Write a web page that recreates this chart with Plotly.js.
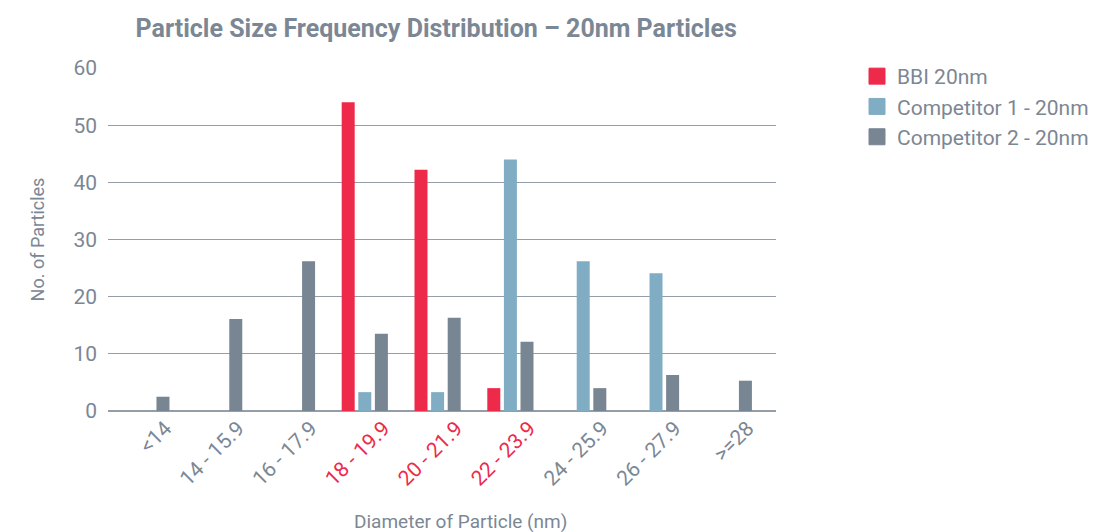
<!DOCTYPE html>
<html>
<head>
<meta charset="utf-8">
<script src="https://cdn.plot.ly/plotly-3.0.1.min.js"></script>
<style>html,body{margin:0;padding:0;background:#fff;}#chart{width:1096px;height:532px;}</style>
</head>
<body>
<div id="chart"></div>
<script>
const categories = ["<14", "14 - 15.9", "16 - 17.9", "18 - 19.9", "20 - 21.9", "22 - 23.9", "24 - 25.9", "26 - 27.9", ">=28"];
const tickLabels = ["&lt;14", "14 - 15.9", "16 - 17.9", "18 - 19.9", "20 - 21.9", "22 - 23.9", "24 - 25.9", "26 - 27.9", "&gt;=28"];
const highlighted = ["18 - 19.9", "20 - 21.9", "22 - 23.9"];
const bbi = [null, null, null, 54, 42.2, 4, null, null, null];
const comp1 = [null, null, null, 3.3, 3.3, 44, 26.2, 24.1, null];
const comp2 = [2.5, 16.1, 26.2, 13.5, 16.3, 12.1, 4, 6.3, 5.3];
const seriesNames = ["BBI 20nm", "Competitor 1 - 20nm", "Competitor 2 - 20nm"];
const yTicks = [0, 10, 20, 30, 40, 50, 60];

const textGrey = "#7b8794";
const colors = ["#ee2a4a", "#80adc4", "#788592"];
const font = "Roboto, 'Noto Sans', sans-serif";

const tickText = categories.map((c, i) =>
  highlighted.includes(c) ? '<span style="fill:#ee2a4a">' + tickLabels[i] + '</span>' : tickLabels[i]);
// label anchor sits a little right of each category centre
const tickPos = categories.map((c, i) => i + 0.26);

const barTraces = [bbi, comp1, comp2].map((vals, i) => ({
  type: "bar",
  name: seriesNames[i],
  x: categories.map((c, k) => k),
  y: vals,
  marker: {color: colors[i]},
  showlegend: false,
  hoverinfo: "y+name"
}));

const legendTraces = seriesNames.map((n, i) => ({
  type: "scatter",
  mode: "markers",
  name: n,
  x: [null], y: [null],
  marker: {symbol: "square", size: 16, color: colors[i], line: {width: 1, color: colors[i]}},
  showlegend: true
}));

const layout = {
  width: 1096, height: 532,
  paper_bgcolor: "#ffffff", plot_bgcolor: "#ffffff",
  margin: {l: 108, r: 320, t: 68, b: 121},
  font: {family: font, color: textGrey, size: 18},
  title: {text: "<b>Particle Size Frequency Distribution – 20nm Particles</b>", x: 0.398, xref: "container", xanchor: "center", y: 0.947, yref: "container", yanchor: "middle", font: {size: 25, color: textGrey, family: font}},
  barmode: "group",
  bargap: 0.316,
  bargroupgap: 0.217,
  xaxis: {
    type: "linear",
    range: [-0.527, 8.648],
    tickmode: "array", tickvals: tickPos, ticktext: tickText,
    tickangle: -45,
    tickfont: {size: 21, color: textGrey},
    showgrid: false, showline: false, zeroline: false, ticks: ""
  },
  yaxis: {
    range: [0, 60],
    tickmode: "array", tickvals: yTicks,
    tickfont: {size: 21, color: textGrey},
    showgrid: true, gridcolor: "#959ea8", gridwidth: 1.3,
    zeroline: true, zerolinecolor: "#959ea8", zerolinewidth: 1.3,
    showline: false, ticks: "", ticklabelstandoff: 10,
    title: {text: "No. of Particles", font: {size: 18, color: textGrey}, standoff: 24}
  },
  legend: {
    xref: "container", yref: "container",
    x: 857 / 1096, xanchor: "left", y: 1 - 56 / 532, yanchor: "top",
    font: {size: 21, color: textGrey},
    bgcolor: "rgba(0,0,0,0)", itemwidth: 30, itemsizing: "trace"
  },
  annotations: [{
    text: "Diameter of Particle (nm)", xref: "paper", yref: "paper",
    x: (460 - 108) / 668, y: -0.321, xanchor: "center", yanchor: "middle",
    showarrow: false, font: {size: 19, color: textGrey}
  }]
};

Plotly.newPlot("chart", barTraces.concat(legendTraces), layout, {displayModeBar: false, staticPlot: true});
</script>
</body>
</html>
